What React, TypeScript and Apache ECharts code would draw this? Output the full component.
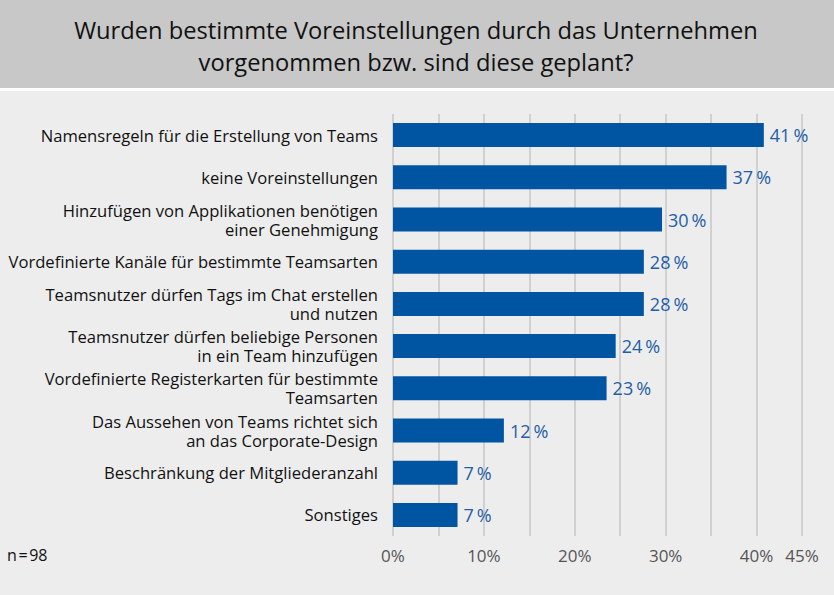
import React, { useEffect, useRef } from "react";
import * as echarts from "echarts";

const categories = [
  "Namensregeln für die Erstellung von Teams",
  "keine Voreinstellungen",
  "Hinzufügen von Applikationen benötigen\neiner Genehmigung",
  "Vordefinierte Kanäle für bestimmte Teamsarten",
  "Teamsnutzer dürfen Tags im Chat erstellen\nund nutzen",
  "Teamsnutzer dürfen beliebige Personen\nin ein Team hinzufügen",
  "Vordefinierte Registerkarten für bestimmte\nTeamsarten",
  "Das Aussehen von Teams richtet sich\nan das Corporate-Design",
  "Beschränkung der Mitgliederanzahl",
  "Sonstiges",
];
const values = [40.8, 36.7, 29.6, 27.6, 27.6, 24.5, 23.5, 12.2, 7.1, 7.1];
const valueLabels = ["41", "37", "30", "28", "28", "24", "23", "12", "7", "7"];
const tickLabels = [0, 10, 20, 30, 40, 45];

const FONT = "'Open Sans', 'Noto Sans', sans-serif";

export default function App() {
  const ref = useRef<HTMLDivElement>(null);
  useEffect(() => {
    document.body.style.margin = "0";
    const chart = echarts.init(ref.current!, null, { renderer: "svg" });
    chart.setOption({
      animation: false,
      backgroundColor: "#ededed",
      graphic: [
        { type: "rect", shape: { x: 0, y: 0, width: 834, height: 88 }, style: { fill: "#c8c8c8" }, z: -1 },
        { type: "rect", shape: { x: 0, y: 88, width: 834, height: 3 }, style: { fill: "#ffffff" }, z: -1 },
        {
          type: "text",
          x: 416,
          y: 46,
          style: {
            text: "Wurden bestimmte Voreinstellungen durch das Unternehmen\nvorgenommen bzw. sind diese geplant?",
            fill: "#111111",
            font: `23.7px ${FONT}`,
            lineHeight: 32,
            align: "center",
            verticalAlign: "middle",
          },
        },
        {
          type: "text",
          x: 7,
          y: 555,
          style: { text: "n\u200a=\u200a98", fill: "#111111", font: `16px ${FONT}`, verticalAlign: "middle" },
        },
      ],
      grid: { left: 393, right: 32, top: 114, bottom: 59 },
      xAxis: {
        type: "value",
        min: 0,
        max: 45,
        interval: 5,
        axisLine: { show: false },
        axisTick: { show: false },
        splitLine: { show: true, lineStyle: { color: "#c6c6c6", width: 1.5 } },
        axisLabel: {
          margin: 11,
          fontFamily: FONT,
          fontSize: 17,
          color: "#555555",
          showMaxLabel: true,
          formatter: (v: number) => (tickLabels.includes(v) ? v + "%" : ""),
        },
      },
      yAxis: {
        type: "category",
        data: categories,
        inverse: true,
        axisLine: { show: false },
        axisTick: { show: false },
        axisLabel: {
          margin: 15,
          fontFamily: FONT,
          fontSize: 16.6,
          lineHeight: 19,
          color: "#111111",
          align: "right",
        },
      },
      series: [
        {
          type: "bar",
          data: values,
          barWidth: 24,
          itemStyle: { color: "#0055a2" },
          label: {
            show: true,
            position: "right",
            distance: 6,
            fontFamily: FONT,
            fontSize: 18,
            fontWeight: 500,
            color: "#1f5ea8",
            formatter: (p: any) => valueLabels[p.dataIndex] + "\u2009%",
          },
        },
      ],
    });
    return () => chart.dispose();
  }, []);
  return <div ref={ref} style={{ width: 834, height: 595 }} />;
}
